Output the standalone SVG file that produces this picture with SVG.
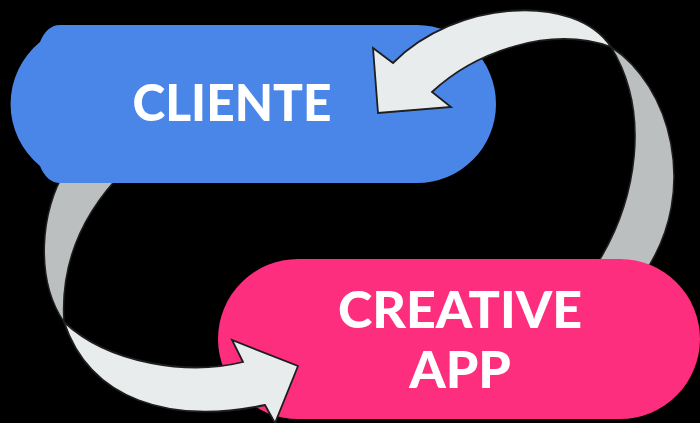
<svg xmlns="http://www.w3.org/2000/svg" width="700" height="423" viewBox="0 0 700 423">
<style>
.back{fill:#BBBFBF;stroke:#1e1e1e;stroke-width:1.5;stroke-linejoin:round}
.front{fill:#E8ECEC;stroke:#1e1e1e;stroke-width:1.8;stroke-linejoin:miter}
.lbl{font-family:Lato,"Open Sans","Liberation Sans",sans-serif;font-weight:900;font-size:52px;fill:#ffffff;text-anchor:middle}
</style>
<rect width="700" height="423" fill="#000"/>
<g id="connectors-back">
<path class="back" d="M611,47 C670,85 700,190 645,272 L592,272 C640,200 650,110 611,47 Z"/>
<path class="back" d="M125,170 C85,210 60,260 64,322 C35,280 40,210 66,170 Z"/>
</g>
<g id="cliente">
<path fill="#4A86E8" d="M60,25 H417 A79,79 0 0 1 417,183 H60 Q47,183 40,166 A80,80 0 0 1 40,42 Q47,25 60,25 Z"/>
<text class="lbl" x="232" y="121" textLength="199" lengthAdjust="spacingAndGlyphs">CLIENTE</text>
</g>
<g id="creative-app">
<path fill="#FE2E7E" d="M298,259 H620 A80,80 0 0 1 620,419 H298 A80,80 0 0 1 298,259 Z"/>
<text class="lbl" x="460" y="328">CREATIVE</text>
<text class="lbl" x="460" y="388">APP</text>
</g>
<g id="connectors">
<path class="front" d="M611,47 C575,-8 455,0 393,63 L373,48 L378,113 L451,107 L432,92 C475,52 550,25 611,47 Z"/>
<path class="front" d="M64,322 C90,400 170,425 265,405 L275,423 L298,366 L232,340 L243,362 C190,375 110,365 64,322 Z"/>
</g>
</svg>
